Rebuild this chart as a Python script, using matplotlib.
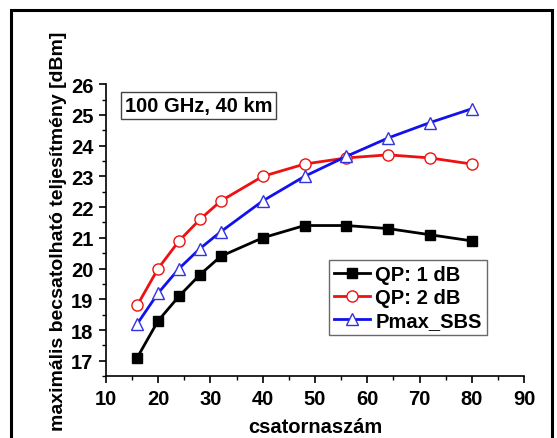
import numpy as np
import matplotlib
matplotlib.use('Agg')
import matplotlib.pyplot as plt
from matplotlib.patches import Rectangle
from matplotlib.ticker import MultipleLocator

plt.rcParams['font.family'] = ['Liberation Sans', 'DejaVu Sans']
plt.rcParams['font.weight'] = 'bold'

# adatok (leolvasva az ábráról)
csatornak = [16, 20, 24, 28, 32, 40, 48, 56, 64, 72, 80]
qp_1db = [17.1, 18.3, 19.1, 19.8, 20.4, 21.0, 21.4, 21.4, 21.3, 21.1, 20.9]
qp_2db = [18.8, 20.0, 20.9, 21.6, 22.2, 23.0, 23.4, 23.6, 23.7, 23.6, 23.4]
pmax_sbs = [18.2, 19.2, 20.0, 20.65, 21.2, 22.2, 23.0, 23.65, 24.25, 24.75, 25.2]

fig = plt.figure(figsize=(5.57, 4.39), dpi=100)
ax = fig.add_axes([0.190, 0.141, 0.751, 0.665])

ax.plot(csatornak, qp_1db, '-s', color='black', lw=2, ms=7,
        mfc='black', mec='black', label='QP: 1 dB')
ax.plot(csatornak, qp_2db, '-o', color='#ee1111', lw=2, ms=8,
        mfc='white', mec='#ee1111', mew=1, label='QP: 2 dB')
ax.plot(csatornak, pmax_sbs, '-^', color='#1111ee', lw=2, ms=9,
        mfc='white', mec='#3333dd', mew=1, label='Pmax_SBS')

ax.set_xlim(10, 90)
ax.set_ylim(16.5, 26)
ax.xaxis.set_major_locator(MultipleLocator(10))
ax.xaxis.set_minor_locator(MultipleLocator(5))
ax.yaxis.set_major_locator(MultipleLocator(1))
ax.yaxis.set_minor_locator(MultipleLocator(0.5))
ax.spines['top'].set_visible(False)
ax.spines['right'].set_visible(False)
ax.spines['left'].set_linewidth(1.2)
ax.spines['bottom'].set_linewidth(1.2)
ax.tick_params(which='major', length=5, width=1.2, labelsize=14.5, pad=4)
ax.tick_params(which='minor', length=3, width=1)
for lab in ax.get_xticklabels() + ax.get_yticklabels():
    lab.set_fontweight('bold')

ax.set_xlabel('csatornaszám', fontsize=14.5, fontweight='bold', labelpad=7)
ax.set_ylabel('maximális becsatolható teljesítmény [dBm]', fontsize=14,
              fontweight='bold', labelpad=3)

ax.text(0.045, 0.928, '100 GHz, 40 km', transform=ax.transAxes, fontsize=14.5,
        fontweight='bold', va='center', ha='left',
        bbox=dict(boxstyle='square,pad=0.2', fc='white', ec='#444444', lw=1))

leg = ax.legend(loc='lower right', bbox_to_anchor=(0.911, 0.14), fontsize=14.5,
                frameon=True, fancybox=False, edgecolor='#444444',
                handlelength=1.8, handletextpad=0.25, borderpad=0.25,
                labelspacing=0.2, borderaxespad=0)
leg.get_frame().set_linewidth(1)
for t in leg.get_texts():
    t.set_fontweight('bold')

# külső keret
fig.patches.append(Rectangle((11 / 557, -0.05), 541 / 557, 1 - 11 / 439 + 0.05,
                             transform=fig.transFigure, fill=False,
                             ec='black', lw=2.2))

fig.savefig('out.png', dpi=100)
